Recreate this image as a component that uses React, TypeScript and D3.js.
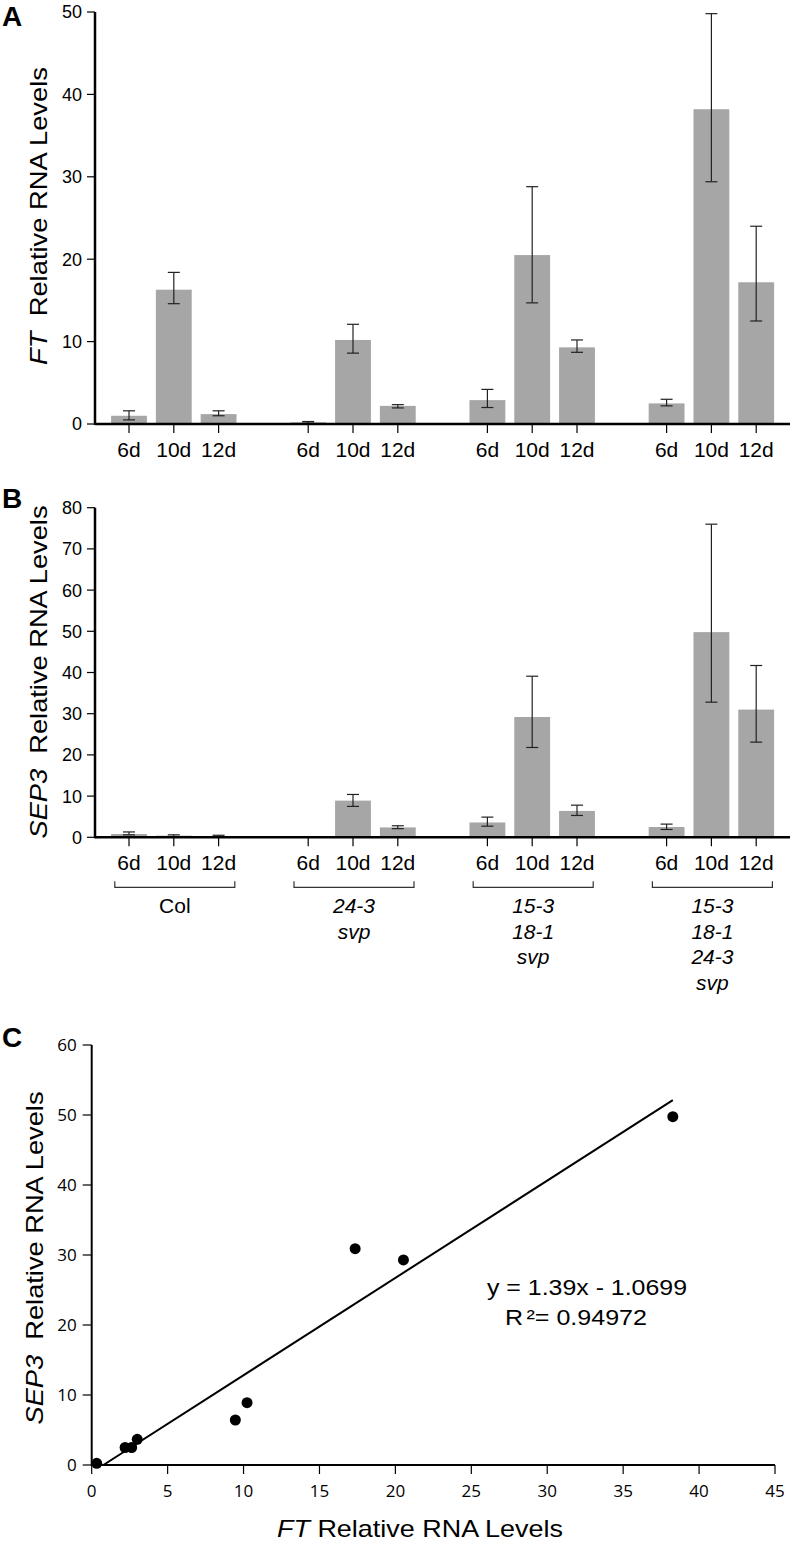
import React from 'react';
import * as d3 from 'd3';

// bar chart data: 4 genotypes x 3 time points
const days = ['6d', '10d', '12d'];
const genotypeLines = [['Col'], ['24-3', 'svp'], ['15-3', '18-1', 'svp'], ['15-3', '18-1', '24-3', 'svp']];
const genotypeItalic = [false, true, true, true];

const ftMean = [1.0, 16.3, 1.2, 0.2, 10.2, 2.2, 2.9, 20.5, 9.3, 2.5, 38.2, 17.2];
const ftLow = [0.5, 14.6, 1.0, 0.1, 8.6, 1.95, 2.0, 14.7, 8.7, 2.2, 29.4, 12.5];
const ftHigh = [1.6, 18.4, 1.6, 0.3, 12.1, 2.35, 4.2, 28.8, 10.2, 3.0, 49.8, 24.0];

const sepMean = [0.8, 0.4, 0.3, 0.1, 8.9, 2.4, 3.6, 29.2, 6.4, 2.5, 49.8, 31.0];
const sepLow = [0.6, 0.1, 0.2, 0.05, 7.5, 2.1, 2.7, 21.8, 5.3, 1.9, 32.8, 23.1];
const sepHigh = [1.3, 0.6, 0.5, 0.15, 10.4, 2.8, 4.9, 39.1, 7.8, 3.2, 76.0, 41.7];

// scatter (panel C)
const scatterFT = [0.33, 2.2, 2.63, 3.0, 9.46, 10.23, 17.35, 20.53, 38.27];
const scatterSEP = [0.24, 2.5, 2.5, 3.67, 6.43, 8.9, 30.9, 29.3, 49.76];
const fitSlope = 1.39;
const fitIntercept = -1.0699;
const fitR2 = '0.94972';

const ticksA = [0, 10, 20, 30, 40, 50];
const ticksB = [0, 10, 20, 30, 40, 50, 60, 70, 80];
const ticksCy = [0, 10, 20, 30, 40, 50, 60];
const ticksCx = [0, 5, 10, 15, 20, 25, 30, 35, 40, 45];

const BAR = '#a6a6a6';
const SANS = '"Liberation Sans", Arial, sans-serif';
const MYRIAD = '"Open Sans", "Noto Sans", sans-serif';

const slots = d3.range(15).map(String);
const xBand = d3.scaleBand<string>().domain(slots).range([106.6, 778.6]).paddingInner(0.2).paddingOuter(0.1);
const slotOf = (i: number) => String(Math.floor(i / 3) * 4 + (i % 3));
const centerOf = (i: number) => (xBand(slotOf(i)) as number) + xBand.bandwidth() / 2;

function BarPanel({ y, ticks, mean, low, high, letter, letterY, gene, titleY, titleLen, axisLeft, showGroups }:
  { y: d3.ScaleLinear<number, number>; ticks: number[]; mean: number[]; low: number[]; high: number[];
    letter: string; letterY: number; gene: string; titleY: number; titleLen: number; axisLeft: number; showGroups: boolean }) {
  const y0 = y(0);
  return (
    <g>
      <text x={2} y={letterY} fontFamily={SANS} fontWeight="bold" fontSize={28}>{letter}</text>
      <text transform={`translate(47,${titleY}) rotate(-90)`} textAnchor="middle" fontFamily={SANS} fontSize={24}
        textLength={titleLen} lengthAdjust="spacingAndGlyphs">
        <tspan fontStyle="italic">{gene}</tspan>
        <tspan>{'\u00a0\u00a0Relative RNA Levels'}</tspan>
      </text>
      {mean.map((v, i) => (
        <rect key={'b' + i} x={xBand(slotOf(i))} y={y(v)} width={xBand.bandwidth()} height={y0 - y(v)} fill={BAR} />
      ))}
      {mean.map((v, i) => {
        const cx = centerOf(i);
        return (
          <g key={'e' + i} stroke="#222" strokeWidth={1.2}>
            <line x1={cx} x2={cx} y1={y(high[i])} y2={y(low[i])} />
            <line x1={cx - 6} x2={cx + 6} y1={y(high[i])} y2={y(high[i])} />
            <line x1={cx - 6} x2={cx + 6} y1={y(low[i])} y2={y(low[i])} />
          </g>
        );
      })}
      <line x1={axisLeft} x2={axisLeft} y1={y(ticks[ticks.length - 1])} y2={y0 + 1} stroke="#000" strokeWidth={2.5} />
      <line x1={axisLeft} x2={790} y1={y0} y2={y0} stroke="#000" strokeWidth={2.5} />
      {ticks.map(t => (
        <g key={'t' + t}>
          <line x1={axisLeft - 8} x2={axisLeft} y1={y(t)} y2={y(t)} stroke="#000" strokeWidth={1.2} />
          <text x={axisLeft - 13} y={y(t)} dy="0.36em" textAnchor="end" fontFamily={SANS} fontSize={18}>{t}</text>
        </g>
      ))}
      {mean.map((_, i) => (
        <g key={'x' + i}>
          <line x1={centerOf(i)} x2={centerOf(i)} y1={y0} y2={y0 + 9} stroke="#000" strokeWidth={1.2} />
          <text x={centerOf(i)} y={y0 + 33} textAnchor="middle" fontFamily={SANS} fontSize={21}>{days[i % 3]}</text>
        </g>
      ))}
      {showGroups && genotypeLines.map((lines, g) => {
        const c = (centerOf(g * 3) + centerOf(g * 3 + 2)) / 2 + 1;
        const by = y0 + 50;
        return (
          <g key={'g' + g}>
            <path d={`M${c - 60},${by - 6}V${by}H${c + 60}V${by - 6}`} fill="none" stroke="#333" strokeWidth={1.2} />
            {lines.map((l, k) => (
              <text key={k} x={c} y={by + 26 + k * 25.5} textAnchor="middle" fontFamily={SANS} fontSize={21}
                fontStyle={genotypeItalic[g] ? 'italic' : 'normal'}>{l}</text>
            ))}
          </g>
        );
      })}
    </g>
  );
}

export default function App() {
  const yA = d3.scaleLinear().domain([0, 50]).range([424, 12]);
  const yB = d3.scaleLinear().domain([0, 80]).range([837.3, 507.7]);
  const xC = d3.scaleLinear().domain([0, 45]).range([91.7, 775]);
  const yC = d3.scaleLinear().domain([0, 60]).range([1465, 1045]);

  const fitX0 = -fitIntercept / fitSlope;
  const fitX1 = d3.max(scatterFT) as number;
  const fitLine = d3.line<number>().x(d => xC(d)).y(d => yC(fitSlope * d + fitIntercept));

  return (
    <svg width={793} height={1544} style={{ position: 'absolute', left: 0, top: 0, background: '#fff' }}>
      <BarPanel y={yA} ticks={ticksA} mean={ftMean} low={ftLow} high={ftHigh} letter="A" letterY={26}
        gene="FT" titleY={216} titleLen={298} axisLeft={95} showGroups={false} />
      <BarPanel y={yB} ticks={ticksB} mean={sepMean} low={sepLow} high={sepHigh} letter="B" letterY={508}
        gene="SEP3" titleY={672} titleLen={333} axisLeft={95} showGroups={true} />

      {/* panel C */}
      <text x={2} y={1047} fontFamily={SANS} fontWeight="bold" fontSize={28}>C</text>
      <text transform={`translate(43,1258) rotate(-90)`} textAnchor="middle" fontFamily={SANS} fontSize={24}
        textLength={333} lengthAdjust="spacingAndGlyphs">
        <tspan fontStyle="italic">SEP3</tspan>
        <tspan>{'\u00a0\u00a0Relative RNA Levels'}</tspan>
      </text>
      <text x={420} y={1537} textAnchor="middle" fontFamily={SANS} fontSize={24} textLength={286} lengthAdjust="spacingAndGlyphs">
        <tspan fontStyle="italic">FT</tspan>
        <tspan>{' Relative RNA Levels'}</tspan>
      </text>
      <line x1={xC(0)} x2={xC(0)} y1={yC(60)} y2={yC(0) + 1} stroke="#000" strokeWidth={2} />
      <line x1={xC(0)} x2={xC(45)} y1={yC(0)} y2={yC(0)} stroke="#000" strokeWidth={2} />
      {ticksCy.map(t => (
        <g key={'cy' + t}>
          <line x1={xC(0) - 9} x2={xC(0)} y1={yC(t)} y2={yC(t)} stroke="#000" strokeWidth={1.2} />
          <text x={xC(0) - 15} y={yC(t)} dy="0.36em" textAnchor="end" fontFamily={MYRIAD} fontSize={17}>{t}</text>
        </g>
      ))}
      {ticksCx.map(t => (
        <g key={'cx' + t}>
          <line x1={xC(t)} x2={xC(t)} y1={yC(0)} y2={yC(0) + 9} stroke="#000" strokeWidth={1.2} />
          <text x={xC(t)} y={yC(0) + 32} textAnchor="middle" fontFamily={MYRIAD} fontSize={17}>{t}</text>
        </g>
      ))}
      <path d={fitLine([fitX0, fitX1]) as string} stroke="#000" strokeWidth={2} fill="none" />
      {scatterFT.map((v, i) => (
        <circle key={'p' + i} cx={xC(v)} cy={yC(scatterSEP[i])} r={5.5} fill="#000" />
      ))}
      <text x={487} y={1295} fontFamily={SANS} fontSize={22} textLength={200} lengthAdjust="spacingAndGlyphs">
        {`y = ${fitSlope}x - ${Math.abs(fitIntercept)}`}
      </text>
      <text x={505} y={1325} fontFamily={SANS} fontSize={22} textLength={142} lengthAdjust="spacingAndGlyphs">
        <tspan>R</tspan>
        <tspan dx={3}>{'\u00b2'}</tspan>
        <tspan>{`= ${fitR2}`}</tspan>
      </text>
    </svg>
  );
}
